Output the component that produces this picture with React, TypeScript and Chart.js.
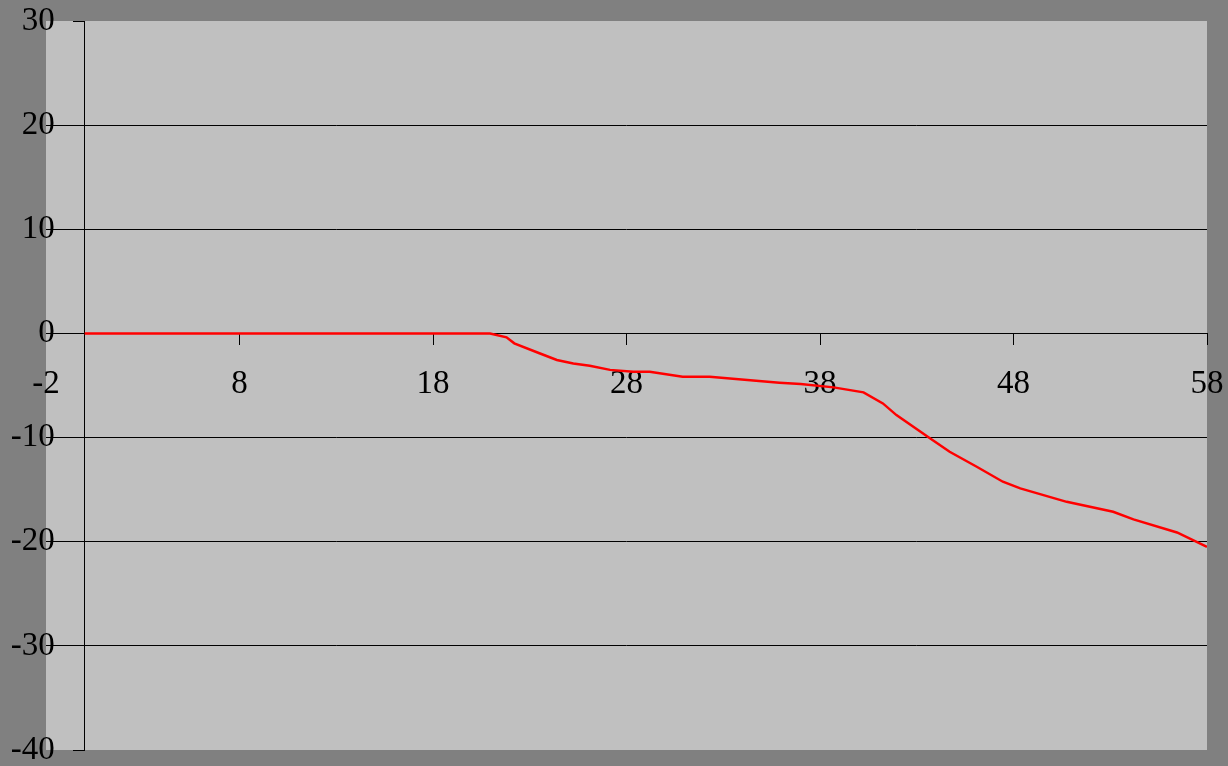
import React, { useEffect, useRef } from "react";
import { Chart, registerables } from "chart.js";

Chart.register(...registerables);

// Series (x, y)
const xValues = [0, 20.95, 21.8, 22.2, 23.5, 24.4, 25.25, 26.1, 27.15, 28.35, 29.2, 30.9, 32.3, 35.9, 37.0, 38.7, 40.25, 41.25, 41.95, 43.7, 44.7, 46.1, 47.45, 48.35, 50.75, 53.15, 54.2, 56.45, 58];
const yValues = [0, 0, -0.37, -0.95, -1.9, -2.55, -2.88, -3.1, -3.5, -3.68, -3.68, -4.16, -4.16, -4.73, -4.86, -5.18, -5.66, -6.72, -7.84, -10.08, -11.36, -12.8, -14.24, -14.88, -16.17, -17.13, -17.86, -19.11, -20.49];

const xTicks = [-2, 8, 18, 28, 38, 48, 58];
const yTicks = [-40, -30, -20, -10, 0, 10, 20, 30];

const FONT = { family: "'Liberation Serif', 'Times New Roman', serif", size: 33 };

const noPad = (s: any) => {
  s.paddingTop = 0;
  s.paddingBottom = 0;
  s.paddingLeft = 0;
  s.paddingRight = 0;
};

const plotBgPlugin = {
  id: "plotBg",
  beforeDraw(chart: any) {
    const { ctx, chartArea } = chart;
    ctx.save();
    ctx.fillStyle = "#C0C0C0";
    ctx.fillRect(chartArea.left, chartArea.top, chartArea.right - chartArea.left, chartArea.bottom - chartArea.top);
    ctx.restore();
    // place y labels to the left of the crossing y axis
    const ys: any = chart.scales.y;
    const axisX = chart.scales.x.getPixelForValue(0);
    const items = ys.getLabelItems(chartArea);
    for (const it of items) {
      it.options.translation[0] = axisX - 30;
      it.options.textAlign = "right";
    }
  },
};

export default function App() {
  const ref = useRef<HTMLCanvasElement | null>(null);

  useEffect(() => {
    if (!ref.current) return;
    const points = xValues.map((x, i) => ({ x, y: yValues[i] }));
    const chart = new Chart(ref.current, {
      type: "scatter",
      data: {
        datasets: [
          {
            data: points,
            showLine: true,
            borderColor: "#FF0000",
            backgroundColor: "#FF0000",
            borderWidth: 2.5,
            pointRadius: 0,
            tension: 0,
          },
        ],
      },
      options: {
        responsive: false,
        animation: false,
        layout: { padding: { left: 46, right: 21, top: 21, bottom: 16 } },
        plugins: { legend: { display: false }, tooltip: { enabled: false } },
        scales: {
          x: {
            type: "linear",
            min: -2,
            max: 58,
            position: { y: 0 } as any,
            afterBuildTicks: (s: any) => {
              s.ticks = xTicks.map((v) => ({ value: v }));
            },
            afterFit: noPad,
            grid: {
              drawOnChartArea: false,
              drawTicks: true,
              tickLength: 11,
              tickColor: (c: any) => (c.tick && c.tick.value === -2 ? "rgba(0,0,0,0)" : "#000"),
              lineWidth: 1,
            },
            border: { display: true, color: "#000", width: 1 },
            ticks: {
              color: "#000",
              font: FONT,
              padding: 20,
              maxRotation: 0,
              autoSkip: false,
              callback: (v: any) => String(v),
            },
          },
          y: {
            type: "linear",
            min: -40,
            max: 30,
            position: { x: 0 } as any,
            afterBuildTicks: (s: any) => {
              s.ticks = yTicks.map((v) => ({ value: v }));
            },
            afterFit: noPad,
            grid: {
              color: (c: any) =>
                c.tick && (c.tick.value === 30 || c.tick.value === -40) ? "rgba(0,0,0,0)" : "#000",
              tickColor: "#000",
              tickLength: 11,
              lineWidth: 1,
            },
            border: { display: true, color: "#000", width: 1 },
            ticks: {
              color: "#000",
              font: FONT,
              padding: 18,
              autoSkip: false,
              callback: (v: any) => String(v),
            },
          },
        },
      },
      plugins: [plotBgPlugin],
    });
    return () => chart.destroy();
  }, []);

  return (
    <div
      style={{
        position: "absolute",
        left: 0,
        top: 0,
        width: 1228,
        height: 766,
        background: "#808080",
      }}
    >
      <canvas ref={ref} width={1228} height={766} style={{ display: "block", width: 1228, height: 766 }} />
    </div>
  );
}
